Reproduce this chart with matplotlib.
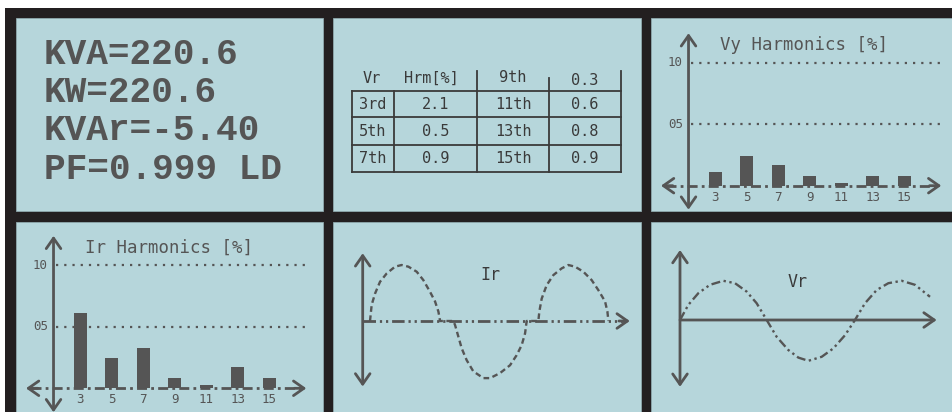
import matplotlib
matplotlib.use("Agg")
import matplotlib.pyplot as plt

W, H = 952, 412
BG = "#b6d6db"
FRAME = "#231f20"
DARK = "#555555"
INK = "#3a3a3a"
MONO = ["DejaVu Sans Mono"]

# power readings
readings = ["KVA=220.6", "KW=220.6", "KVAr=-5.40", "PF=0.999 LD"]

# harmonic table (Vr)
tbl_header = ["Vr", "Hrm[%]"]
tbl_left_orders = ["3rd", "5th", "7th"]
tbl_left_vals = ["2.1", "0.5", "0.9"]
tbl_right_orders = ["9th", "11th", "13th", "15th"]
tbl_right_vals = ["0.3", "0.6", "0.8", "0.9"]

# harmonic bars
orders = [3, 5, 7, 9, 11, 13, 15]
vy_harm = [1.15, 2.45, 1.65, 0.8, 0.25, 0.8, 0.8]
ir_harm = [6.1, 2.5, 3.3, 0.85, 0.3, 1.75, 0.85]

# waveforms, time in ms, amplitude per unit
ir_t = [0.87, 1.07, 1.47, 2.06, 2.86, 3.85, 4.64, 5.44, 6.43, 7.22, 8.02, 8.61, 9.01, 9.21,
        10.79, 10.99, 11.39, 11.79, 12.38, 13.17, 14.37, 15.16, 16.35, 17.54, 18.33, 18.93,
        19.33, 19.52, 20.91, 21.03, 21.31, 21.90, 22.70, 23.69, 24.48, 25.28, 26.27, 27.26,
        28.06, 28.85, 29.13, 29.25]
ir_a = [0.0, 0.29, 0.49, 0.70, 0.85, 0.97, 1.00, 0.97, 0.88, 0.73, 0.52, 0.35, 0.17, 0.0,
        0.0, -0.07, -0.28, -0.49, -0.70, -0.90, -1.02, -1.02, -0.93, -0.79, -0.61, -0.43,
        -0.22, 0.0, 0.0, 0.17, 0.40, 0.64, 0.82, 0.94, 1.00, 0.97, 0.88, 0.73,
        0.55, 0.35, 0.17, 0.0]
vr_t = [0.0, 0.94, 2.06, 3.37, 4.87, 6.18, 7.49, 8.61, 9.74, 10.86, 12.17, 13.30, 14.42,
        15.92, 17.23, 18.54, 19.66, 20.79, 22.10, 23.41, 24.91, 26.40, 28.09]
vr_a = [0.0, 0.38, 0.67, 0.88, 0.98, 0.92, 0.71, 0.42, 0.0, -0.42, -0.75, -0.94, -1.02,
        -0.92, -0.71, -0.38, 0.0, 0.42, 0.75, 0.92, 0.98, 0.88, 0.58]

panels = [(16, 18, 323, 211), (333, 18, 641, 211), (651, 18, 952, 211),
          (16, 222, 323, 412), (333, 222, 641, 412), (651, 222, 952, 412)]

fig = plt.figure(figsize=(W / 100, H / 100), dpi=100)
base = fig.add_axes([0, 0, 1, 1])
base.set_xlim(0, W)
base.set_ylim(H, 0)
base.axis("off")
base.add_patch(plt.Rectangle((5, 8), W - 5, H - 8, color=FRAME, lw=0))
for x0, y0, x1, y1 in panels:
    base.add_patch(plt.Rectangle((x0, y0), x1 - x0, y1 - y0, facecolor=BG,
                                 edgecolor="#8fa9ad", lw=0.6))


def chart_axes(box, origin, sx, sy):
    x0, y0, x1, y1 = box
    ax = fig.add_axes([x0 / W, 1 - y1 / H, (x1 - x0) / W, (y1 - y0) / H])
    ax.set_xlim((x0 - origin[0]) / sx, (x1 - origin[0]) / sx)
    ax.set_ylim((origin[1] - y1) / sy, (origin[1] - y0) / sy)
    ax.axis("off")
    ax.patch.set_alpha(0)
    return ax


def arrow(ax, tail, tip, both=False, lw=2.0):
    ax.annotate("", xy=tip, xytext=tail,
                arrowprops=dict(arrowstyle=("<->" if both else "->") + ",head_length=0.5,head_width=0.35",
                                mutation_scale=15, lw=lw, color=DARK,
                                shrinkA=0, shrinkB=0))


# panel 1: readings
for i, s in enumerate(readings):
    base.text(44, 54 + i * 38.5, s, fontsize=26, family=["Liberation Mono", "DejaVu Sans Mono"],
              weight="bold", color=DARK, va="center", ha="left")

# panel 2: table
col_lines = [351.7, 394, 477.3, 549, 621]
row_lines = [91, 117, 145, 171.7]
row_y = [104, 131, 158.5]
for y in row_lines:
    base.plot([col_lines[0], col_lines[-1]], [y, y], color=INK, lw=1.3)
base.plot([col_lines[0]] * 2, [91, 171.7], color=INK, lw=1.3)
base.plot([col_lines[1]] * 2, [91, 171.7], color=INK, lw=1.3)
base.plot([col_lines[2]] * 2, [71, 171.7], color=INK, lw=1.3)
base.plot([col_lines[3]] * 2, [78, 171.7], color=INK, lw=1.3)
base.plot([col_lines[4]] * 2, [71, 171.7], color=INK, lw=1.3)
centers = [(col_lines[i] + col_lines[i + 1]) / 2 for i in range(4)]
tkw = dict(fontsize=11, family=MONO, color=INK, ha="center", va="center")
base.text(371.7, 78, tbl_header[0], **tkw)
base.text(431, 78, tbl_header[1], **tkw)
base.text(centers[2], 77.5, tbl_right_orders[0], **tkw)
base.text(centers[3], 80, tbl_right_vals[0], **tkw)
for i in range(3):
    base.text(centers[0], row_y[i], tbl_left_orders[i], **tkw)
    base.text(centers[1], row_y[i], tbl_left_vals[i], **tkw)
    base.text(centers[2], row_y[i], tbl_right_orders[i + 1], **tkw)
    base.text(centers[3], row_y[i], tbl_right_vals[i + 1], **tkw)


# panels 3 and 4: harmonic bars
def harmonics(ax, vals, title):
    ax.bar(orders, vals, width=0.83, color=DARK, zorder=3)
    for g, lab in [(5, "05"), (10, "10")]:
        ax.plot([1.45, 17.35], [g, g], ls=(0, (1, 2.7)), lw=1.6, color=DARK)
        ax.text(0.95, g, lab, fontsize=9, family=MONO, color=DARK, ha="right", va="center")
    arrow(ax, (1.3, -1.95), (1.3, 12.4), both=True)
    ax.plot([-0.1, 17.0], [0, 0], color=DARK, lw=2, dashes=(3.6, 1.5, 1, 1.5))
    arrow(ax, (0.3, 0), (-0.45, 0))
    arrow(ax, (16.6, 0), (17.35, 0))
    for h in orders:
        ax.text(h, -0.95, str(h), fontsize=9, family=MONO, color=DARK, ha="center", va="center")
    ax.text(8.65, 11.45, title, fontsize=12.5, family=MONO, color=DARK, ha="center", va="center")


harmonics(chart_axes(panels[2], (668.05, 185.7), 15.75, 12.3), vy_harm, "Vy Harmonics [%]")
harmonics(chart_axes(panels[3], (33.05, 388.3), 15.75, 12.3), ir_harm, "Ir Harmonics [%]")

# panel 5: current waveform
ax5 = chart_axes(panels[4], (362.7, 321), 8.4, 56)
ax5.plot([0, 31.0], [0, 0], color=DARK, lw=2, dashes=(4.5, 1.4, 0.8, 1.4, 0.8, 1.4))
arrow(ax5, (30.5, 0), (31.8, 0))
arrow(ax5, (0, -1.17), (0, 1.21), both=True)
ax5.plot(ir_t, ir_a, color=DARK, lw=1.7, dashes=(2.4, 1.5))
ax5.text(15.15, 0.82, "Ir", fontsize=12, family=MONO, color=INK, ha="center", va="center")

# panel 6: voltage waveform
ax6 = chart_axes(panels[5], (680, 320), 8.9, 40)
arrow(ax6, (0, 0), (28.84, 0))
arrow(ax6, (0, -1.67), (0, 1.75), both=True)
ax6.plot(vr_t, vr_a, color=DARK, lw=1.7, dashes=(3.8, 1.5, 1, 1.5, 1, 1.5))
ax6.text(13.2, 0.96, "Vr", fontsize=12, family=MONO, color=INK, ha="center", va="center")

fig.savefig("out.png", dpi=100)
